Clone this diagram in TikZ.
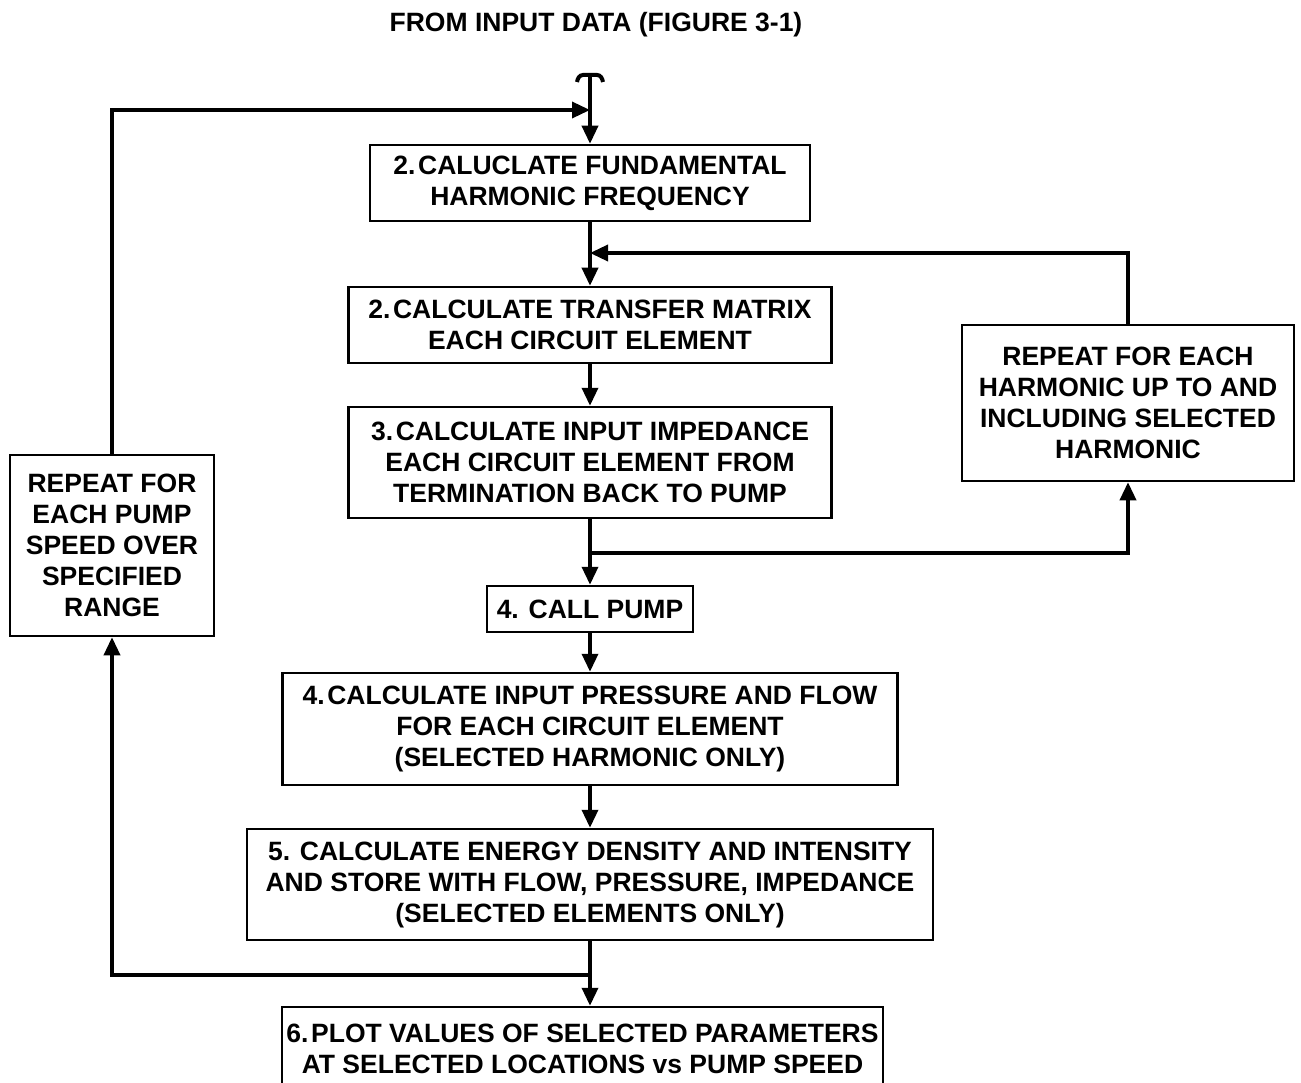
\documentclass[tikz,border=0pt]{standalone}
\usepackage{fontspec}
\setmainfont{Liberation Sans}
\usetikzlibrary{arrows.meta}

\begin{document}
\begin{tikzpicture}[x=1pt,y=-1pt]

\tikzset{box/.style = {draw, line width=2.5pt, align=center, inner sep=0pt,
  font=\fontsize{26.5}{31}\selectfont\bfseries}}
\tikzset{arc/.style = {-{Triangle[length=18pt,width=16pt]}, line width=3.5pt}}
\tikzset{line/.style = {line width=3.5pt}}

\useasboundingbox (0,0) rectangle (1301,1083);

% title
\node[font=\fontsize{26.5}{31}\selectfont\bfseries] (title) at (596,25) {FROM INPUT DATA (FIGURE 3-1)};

% boxes
\node[box, minimum width=440, minimum height=76] (b1) at (590,183) {2.\hspace{0.1em}CALUCLATE FUNDAMENTAL\\HARMONIC FREQUENCY};
\node[box, minimum width=483, minimum height=76] (b2) at (590,325) {2.\hspace{0.1em}CALCULATE TRANSFER MATRIX\\EACH CIRCUIT ELEMENT};
\node[box, minimum width=483, minimum height=111] (b3) at (590,462.5) {3.\hspace{0.1em}CALCULATE INPUT IMPEDANCE\\EACH CIRCUIT ELEMENT FROM\\TERMINATION BACK TO PUMP};
\node[box, minimum width=206, minimum height=46] (b4) at (590,609) {4. CALL PUMP};
\node[box, minimum width=615, minimum height=112] (b5) at (590,729) {4.\hspace{0.1em}CALCULATE INPUT PRESSURE AND FLOW\\FOR EACH CIRCUIT ELEMENT\\(SELECTED HARMONIC ONLY)};
\node[box, minimum width=686, minimum height=111] (b6) at (590,884.5) {5. CALCULATE ENERGY DENSITY AND INTENSITY\\AND STORE WITH FLOW, PRESSURE, IMPEDANCE\\(SELECTED ELEMENTS ONLY)};
\node[box, minimum width=601, minimum height=83] (b7) at (582.5,1048.5) {6.\hspace{0.1em}PLOT VALUES OF SELECTED PARAMETERS\\AT SELECTED LOCATIONS vs PUMP SPEED};
\node[box, minimum width=332, minimum height=156] (harm) at (1128,403) {REPEAT FOR EACH\\HARMONIC UP TO AND\\INCLUDING SELECTED\\HARMONIC};
\node[box, minimum width=204, minimum height=181] (speed) at (112,545.5) {REPEAT FOR\\EACH PUMP\\SPEED OVER\\SPECIFIED\\RANGE};

% junctions
\coordinate (tee) at (590,75);
\coordinate (jtop) at (590,110);
\coordinate (jh) at (590,253);
\coordinate (js) at (590,553);
\coordinate (jb) at (590,975);

% entry
\draw[line width=4pt] (577,82) to[out=80,in=180] (583,75) -- (597,75) to[out=0,in=100] (603,82);
\draw[arc] (tee) -- (b1);

% main flow
\draw[arc] (b1) -- (b2);
\draw[arc] (b2) -- (b3);
\draw[arc] (b3) -- (b4);
\draw[arc] (b4) -- (b5);
\draw[arc] (b5) -- (b6);
\draw[line] (b6) -- (jb);
\draw[arc] (jb) -- (jb |- b7.north);

% loops
\draw[arc] (harm.north) |- (jh);
\draw[arc] (js) -| (harm.south);
\draw[arc] (speed.north) |- (jtop);
\draw[arc] (jb) -| (speed.south);

\end{tikzpicture}
\end{document}
